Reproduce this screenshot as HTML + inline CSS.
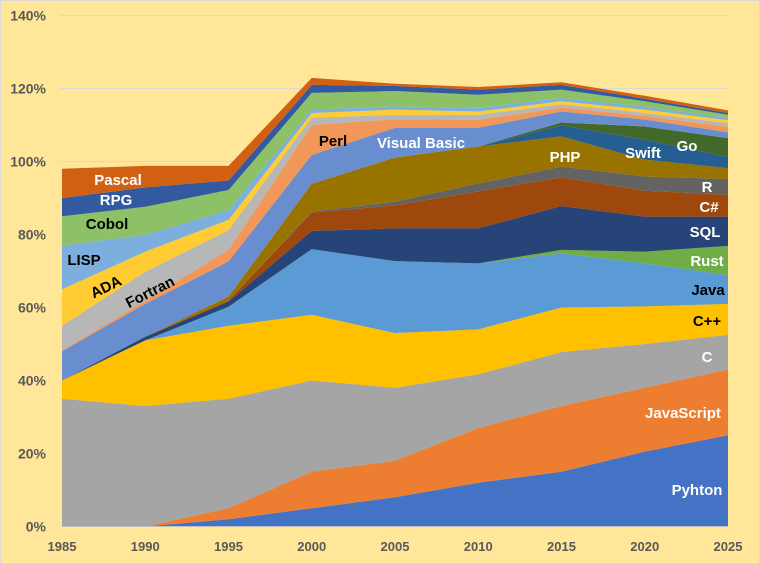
<!DOCTYPE html>
<html><head><meta charset="utf-8"><style>
html,body{margin:0;padding:0;background:#FFE699;}
svg{display:block;font-family:"Liberation Sans",sans-serif;}
</style></head><body>
<svg id="chart" width="760" height="564">
<rect x="0.5" y="0.5" width="759" height="563" fill="#FFE699" stroke="#d9d9d9"/>
<g id="grid"></g><g id="areas"></g><g id="axes"></g><g id="labels"></g>
</svg>
<script>
const years = [1985,1990,1995,2000,2005,2010,2015,2020,2025];
const yTicks = [0,20,40,60,80,100,120,140];
const seriesNames = ["Pyhton","JavaScript","C","C++","Java","Rust","SQL","C#","R","PHP","Swift","Go","Visual Basic","Perl","Fortran","ADA","LISP","Cobol","RPG","Pascal"];
const python = [0,0,2,5,8,12,15,20.5,25];
const javascript = [0,0,3,10,10,15,18,17.5,18];
const cLang = [35,33,30,25,20,14.7,14.8,12,9.5];
const cpp = [5,18,20,18,15,12.3,12.2,10.3,8.5];
const java = [0,0,5.2,18,19.7,18.1,14.8,11.8,7.9];
const rust = [0,0,0,0,0,0,1,3.2,8];
const sql = [0,1,1.4,5,9,9.6,12,9.6,8];
const csharp = [0,0,0.4,5,6.3,10.1,7.9,7.1,6];
const rLang = [0,0,0,0.3,1,2.2,2.9,3.9,4.3];
const php = [0,0,1,7.6,12.1,10.1,8.3,4.6,3];
const swift = [0,0,0,0,0,0,3,5.5,3];
const goLang = [0,0,0,0,0,0,0.8,3.6,5.2];
const vb = [8,9,9.6,7.9,8.1,5.1,3,1.9,1.6];
const perl = [0.3,0.8,3.2,8.2,2.4,2.2,1.1,1,1.5];
const fortran = [6.7,8,5.4,2,1.2,1.4,0.9,0.8,1];
const ada = [10,5.5,2.8,1.3,1.4,0.9,0.8,0.9,0.8];
const lisp = [12,4.6,2.7,0.9,0.9,1,0.9,0.8,0.7];
const cobol = [8,7.7,5.5,4.6,4.2,3.6,2.3,1.5,0.8];
const rpg = [5,5.3,2.6,2.2,1.4,1.4,1.3,0.7,0.5];
const pascal = [8,5.9,4,1.9,0.6,0.7,0.7,0.8,0.7];

const series = [python,javascript,cLang,cpp,java,rust,sql,csharp,rLang,php,swift,goLang,vb,perl,fortran,ada,lisp,cobol,rpg,pascal];
const colors = ["#4472C4","#ED7D31","#A5A5A5","#FFC000","#5B9BD5","#70AD47","#264478","#9E480E","#636363","#997300","#255E91","#43682B","#698ED0","#F1975A","#B7B7B7","#FFCD33","#7CAFDD","#8CC168","#335AA1","#D26012"];
const NS="http://www.w3.org/2000/svg";
const X0=62,X1=728,Y0=526.5,PX=3.65;
function xs(i){return X0+(years[i]-years[0])/(years[years.length-1]-years[0])*(X1-X0);}
function ys(v){return Y0-v*PX;}
function mk(t,a,p){const e=document.createElementNS(NS,t);for(const k in a)e.setAttribute(k,a[k]);p.appendChild(e);return e;}
const grid=document.getElementById('grid'),areas=document.getElementById('areas'),axes=document.getElementById('axes'),labels=document.getElementById('labels');
yTicks.forEach(v=>{
  const l=mk('line',{x1:60,x2:X1,y1:ys(v),y2:ys(v),stroke:'#d9d9d9','stroke-width':1},grid);
  
  
  const t=mk('text',{x:46,y:ys(v)+5,'text-anchor':'end','font-size':14,'font-weight':'bold',fill:'#595959'},axes);
  t.textContent=v+'%';
  
  
});
years.forEach((yr,i)=>{
  const t=mk('text',{x:xs(i),y:551,'text-anchor':'middle','font-size':13,'font-weight':'bold',fill:'#595959'},axes);
  t.textContent=yr;
  
  
});
let base=years.map(()=>0);
series.forEach((s,k)=>{
  const top=base.map((b,i)=>b+s[i]);
  let d='M'+years.map((_,i)=>xs(i)+','+ys(top[i])).join('L');
  for(let i=years.length-1;i>=0;i--)d+='L'+xs(i)+','+ys(base[i]);
  d+='Z';
  const p=mk('path',{d:d,fill:colors[k]},areas);
  
  
  base=top;
});
const axl=mk('line',{x1:X0,x2:X1,y1:Y0,y2:Y0,stroke:'#bfbfbf','stroke-width':1},axes);


const lbls=[["Pascal",118,185,"#fff",0],["RPG",116,205,"#fff",0],["Cobol",107,229,"#000",0],["LISP",84,265,"#000",0],["ADA",106,292,"#000",-26],["Fortran",150,297,"#000",-27],["Perl",333,146,"#000",0],["Visual Basic",421,148,"#fff",0],["PHP",565,162,"#fff",0],["Swift",643,158,"#fff",0],["Go",687,151,"#fff",0],["R",707,192,"#fff",0],["C#",709,212,"#fff",0],["SQL",705,237,"#fff",0],["Rust",707,266,"#fff",0],["Java",708,295,"#000",0],["C++",707,326,"#000",0],["C",707,362,"#fff",0],["JavaScript",683,418,"#fff",0],["Pyhton",697,495,"#fff",0]];
lbls.forEach(a=>{
  const t=mk('text',{x:a[1],y:a[2],'text-anchor':'middle','font-size':15,'font-weight':'bold',fill:a[3],transform:'rotate('+a[4]+' '+a[1]+' '+(a[2]-5)+')'},labels);
  t.textContent=a[0];
  
  
});
</script>
</body></html>
